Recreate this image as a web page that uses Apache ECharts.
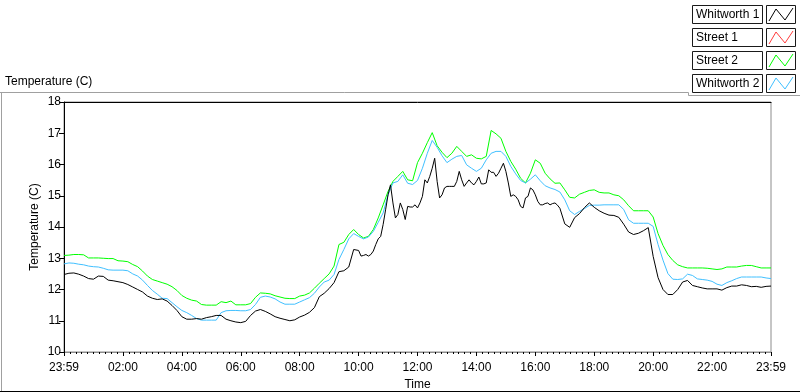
<!DOCTYPE html>
<html><head><meta charset="utf-8">
<script src="https://cdn.jsdelivr.net/npm/echarts@6/dist/echarts.min.js"></script>
<style>html,body{margin:0;padding:0;background:#fff}#c{width:800px;height:392px}</style>
</head><body><div id="c"></div>
<script>
// ---- data ----
const seriesNames = ['Whitworth 1', 'Street 1', 'Street 2', 'Whitworth 2'];
const seriesColors = ['#000000', '#ff3c3c', '#00ff00', '#40c0ff'];
const xTickLabels = ['23:59','02:00','04:00','06:00','08:00','10:00','12:00','14:00','16:00','18:00','20:00','22:00','23:59'];
const yTickValues = [10, 11, 12, 13, 14, 15, 16, 17, 18];

// minutes since start, 10-minute samples (0..1440) for Street 2 / Whitworth 2
const sampleStepMinutes = 10;

// Whitworth 1 (black), in three segments: 0-590 every 10 min, 600-1010 every 5 min, 1020-1440 every 10 min
const whitworth1A = [
12.48,12.52,12.53,12.49,12.43,12.35,12.33,12.43,12.42,12.30,
12.28,12.25,12.22,12.16,12.08,12.00,11.92,11.79,11.72,11.68,
11.70,11.63,11.49,11.33,11.13,11.05,11.05,11.07,11.05,11.10,
11.13,11.17,11.17,11.05,11.00,10.96,10.94,10.98,11.17,11.31,
11.36,11.30,11.22,11.13,11.08,11.04,11.00,11.03,11.12,11.18,
11.27,11.42,11.77,11.88,12.03,12.22,12.57,12.60,12.72,13.28];
const whitworth1B = [
13.25,13.07,13.09,13.12,13.07,13.12,13.23,13.44,13.62,13.70,
14.08,14.55,15.03,15.35,14.77,14.29,14.40,14.77,14.56,14.24,
14.66,14.64,14.64,14.71,14.61,14.77,14.98,15.51,15.41,15.62,
15.88,16.20,15.46,14.93,15.03,15.25,15.30,15.30,15.30,15.30,
15.46,15.78,15.51,15.30,15.41,15.51,15.41,15.35,15.46,15.60,
15.38,15.38,15.41,15.83,15.75,15.75,15.62,15.72,15.88,16.04,
15.78,15.41,14.98,15.03,14.98,14.87,14.66,14.61,14.93,14.98,
15.25,15.19,15.03,14.82,14.71,14.71,14.75,14.77,14.71,14.75,
14.77,14.70,14.60];
const whitworth1C = [
14.10,13.99,14.30,14.43,14.62,14.77,14.63,14.52,14.44,14.38,
14.37,14.31,14.09,13.84,13.76,13.80,13.88,13.98,13.06,12.38,
12.00,11.84,11.84,12.00,12.24,12.29,12.13,12.09,12.05,12.02,
12.02,12.02,11.98,12.06,12.11,12.11,12.15,12.13,12.09,12.10,
12.07,12.10,12.11];

const street1 = []; // no trace visible

const street2 = [
13.09,13.10,13.12,13.12,13.11,13.01,13.01,13.01,13.00,12.99,
12.99,12.92,12.91,12.89,12.80,12.73,12.59,12.43,12.32,12.27,
12.22,12.17,12.09,11.97,11.81,11.72,11.66,11.63,11.52,11.50,
11.50,11.50,11.61,11.58,11.63,11.51,11.51,11.51,11.55,11.75,
11.89,11.88,11.86,11.80,11.76,11.72,11.71,11.71,11.79,11.82,
11.89,12.04,12.20,12.35,12.50,12.75,13.44,13.51,13.76,13.92,
13.76,13.65,13.70,13.92,14.29,14.71,15.14,15.46,15.62,15.78,
15.51,15.48,16.06,16.36,16.70,17.02,16.60,16.39,16.22,16.36,
16.58,16.42,16.26,16.31,16.20,16.18,16.26,17.09,16.98,16.84,
16.42,16.10,15.85,15.56,15.41,15.72,16.15,16.04,15.72,15.54,
15.40,15.41,15.19,14.95,14.93,15.05,15.11,15.17,15.19,15.11,
15.09,15.09,15.03,15.00,14.87,14.68,14.52,14.52,14.52,14.52,
14.32,13.79,13.41,13.12,12.93,12.79,12.73,12.69,12.69,12.69,
12.69,12.68,12.66,12.64,12.66,12.72,12.72,12.72,12.75,12.77,
12.77,12.73,12.69,12.69,12.69];

const whitworth2 = [
12.82,12.85,12.84,12.81,12.79,12.75,12.73,12.72,12.68,12.63,
12.62,12.62,12.62,12.60,12.50,12.43,12.30,12.13,11.97,11.85,
11.72,11.71,11.58,11.45,11.33,11.26,11.17,11.07,11.02,11.02,
11.02,11.02,11.26,11.32,11.33,11.33,11.32,11.32,11.36,11.52,
11.75,11.79,11.76,11.70,11.60,11.53,11.53,11.53,11.60,11.67,
11.74,11.88,12.08,12.24,12.30,12.48,12.96,13.28,13.62,13.79,
13.70,13.62,13.68,13.86,14.15,14.45,15.03,15.41,15.46,15.67,
15.40,15.36,15.49,15.88,16.36,16.77,16.55,16.28,16.06,16.17,
16.26,16.29,15.99,15.88,15.78,15.88,16.15,16.36,16.42,16.42,
16.26,15.94,15.70,15.49,15.41,15.53,15.67,15.48,15.32,15.25,
15.20,15.12,14.87,14.52,14.40,14.50,14.59,14.69,14.70,14.70,
14.71,14.71,14.71,14.71,14.56,14.23,14.12,14.12,14.12,14.12,
14.02,13.44,12.94,12.51,12.33,12.32,12.34,12.49,12.45,12.34,
12.32,12.30,12.26,12.17,12.13,12.22,12.28,12.35,12.40,12.40,
12.40,12.40,12.40,12.37,12.35];

// ---- build ----
function seg(start, step, vals) { return vals.map((v, i) => [start + i * step, v]); }
const blackData = seg(0, 10, whitworth1A).concat(seg(600, 5, whitworth1B), seg(1020, 10, whitworth1C));
const street2Data = seg(0, sampleStepMinutes, street2);
const whit2Data = seg(0, sampleStepMinutes, whitworth2);

const FONT = 'Liberation Sans';
const chart = echarts.init(document.getElementById('c'), null, { renderer: 'canvas' });

const legendGraphics = [];
seriesNames.forEach((name, i) => {
  const y0 = 5 + i * 23;
  legendGraphics.push({ type: 'rect', shape: { x: 692.5, y: y0 + 0.5, width: 70, height: 18 },
    style: { fill: '#fff', stroke: '#1a1a1a', lineWidth: 1 }, silent: true });
  legendGraphics.push({ type: 'text', x: 696, y: y0 + 10, style: { text: name, fill: '#000',
    font: '12px ' + FONT, verticalAlign: 'middle' }, silent: true });
  legendGraphics.push({ type: 'rect', shape: { x: 766.5, y: y0 + 0.5, width: 29, height: 18 },
    style: { fill: '#fff', stroke: '#1a1a1a', lineWidth: 1 }, silent: true });
  legendGraphics.push({ type: 'polyline', shape: { points: [[769, y0 + 16], [776, y0 + 4], [785, y0 + 15], [793, y0 + 3]] },
    style: { stroke: seriesColors[i], lineWidth: 1, fill: null }, silent: true });
});

const frame = [
  { type: 'polyline', shape: { points: [[0, 92.5], [688.5, 92.5], [688.5, 95.5], [800, 95.5]] }, style: { stroke: '#a0a0a0', lineWidth: 1, fill: null }, silent: true },
  { type: 'line', shape: { x1: 1.5, y1: 92, x2: 1.5, y2: 391 }, style: { stroke: '#a0a0a0', lineWidth: 1 }, silent: true },
  { type: 'line', shape: { x1: 0, y1: 391.5, x2: 800, y2: 391.5 }, style: { stroke: '#000', lineWidth: 1 }, silent: true },
  { type: 'text', x: 5, y: 82, style: { text: 'Temperature (C)', fill: '#000', font: '12px ' + FONT, verticalAlign: 'middle' }, silent: true }
];

const xBase = {
  type: 'value', min: 0, max: 1440, interval: 120,
};

chart.setOption({
  backgroundColor: '#ffffff',
  animation: false,
  grid: { left: 64, right: 29, top: 102, bottom: 40, show: true, borderColor: '#8c8c8c', borderWidth: 1, backgroundColor: '#fff',
          containLabel: false, outerBoundsMode: 'none' },
  xAxis: [
    Object.assign({}, xBase, {
      position: 'bottom',
      name: 'Time', nameLocation: 'middle', nameGap: 27,
      nameTextStyle: { color: '#000', fontFamily: FONT, fontSize: 12 },
      axisLine: { show: true, lineStyle: { color: '#8c8c8c', width: 1 } },
      axisTick: { show: true, inside: false, length: 4, lineStyle: { color: '#000' } },
      minorTick: { show: true, splitNumber: 10, length: 2, lineStyle: { color: '#000' } },
      axisLabel: { color: '#000', fontFamily: FONT, fontSize: 12, margin: 10,
        formatter: v => xTickLabels[Math.round(v / 120)] },
      splitLine: { show: false }
    }),
    Object.assign({}, xBase, {
      position: 'top',
      axisLine: { show: true, lineStyle: { color: '#000', width: 1 } },
      axisTick: { show: false }, axisLabel: { show: false }, splitLine: { show: false }
    })
  ],
  yAxis: {
    type: 'value', min: yTickValues[0], max: yTickValues[yTickValues.length - 1], interval: 1,
    name: 'Temperature (C)', nameLocation: 'middle', nameGap: 23, nameRotate: 90, nameMoveOverlap: false,
    nameTextStyle: { color: '#000', fontFamily: FONT, fontSize: 12 },
    axisLine: { show: true, lineStyle: { color: '#000', width: 1 } },
    axisTick: { show: true, length: 5, lineStyle: { color: '#000' } },
    axisLabel: { color: '#000', fontFamily: FONT, fontSize: 12, margin: 3 },
    splitLine: { show: false }
  },
  series: [
    { name: seriesNames[2], type: 'line', data: street2Data, showSymbol: false, symbol: 'none',
      lineStyle: { color: seriesColors[2], width: 1 }, itemStyle: { color: seriesColors[2] }, z: 2 },
    { name: seriesNames[3], type: 'line', data: whit2Data, showSymbol: false, symbol: 'none',
      lineStyle: { color: seriesColors[3], width: 1 }, itemStyle: { color: seriesColors[3] }, z: 3 },
    { name: seriesNames[1], type: 'line', data: street1, showSymbol: false, symbol: 'none',
      lineStyle: { color: seriesColors[1], width: 1 }, z: 2 },
    { name: seriesNames[0], type: 'line', data: blackData, showSymbol: false, symbol: 'none',
      lineStyle: { color: seriesColors[0], width: 1 }, itemStyle: { color: seriesColors[0] }, z: 4 }
  ],
  graphic: frame.concat(legendGraphics)
});
</script>
</body></html>
